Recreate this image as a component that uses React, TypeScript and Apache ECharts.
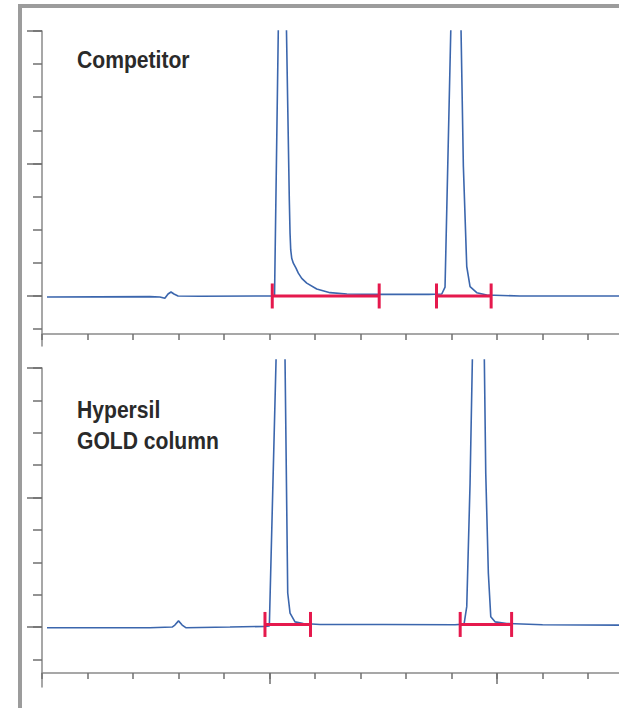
import React, { useEffect, useRef } from "react";
import * as echarts from "echarts";

// ---- data (x in tick units of the time axis, y in tick units of the signal axis) ----
const X_MAX = 12.68;
const X_TICKS = [0, 1, 2, 3, 4, 5, 6, 7, 8, 9, 10, 11, 12];
const X_LONG_TICKS = [5, 10];
const Y_TICKS = [-1, 0, 1, 2, 3, 4, 5, 6, 7, 8];
const Y_LONG_TICKS = [0, 4, 8];

const topTimes = [0.11, 2.37, 2.59, 2.7, 2.77, 2.835, 2.9, 2.99, 3.47, 4.79, 5.08, 5.11, 5.275, 5.435, 5.451, 5.466, 5.488, 5.523, 5.582, 5.633, 5.708, 5.818, 6.037, 6.33, 6.7, 7.43, 8.5, 8.785, 8.857, 9.111, 9.26, 9.334, 9.407, 9.554, 9.774, 10.5, 12.68];
const topSignal = [-0.03, -0.02, -0.03, -0.07, 0.06, 0.12, 0.06, 0, -0.01, 0, 0, 0, 16, 2.9, 1.89, 1.39, 1.14, 0.99, 0.84, 0.69, 0.53, 0.39, 0.21, 0.1, 0.06, 0.05, 0.05, 0.06, 0.27, 15.85, 3.91, 0.89, 0.28, 0.1, 0.03, 0.0, 0.0];

const bottomTimes = [0.11, 2.37, 2.86, 2.92, 3.0, 3.08, 3.16, 4.13, 4.9, 4.996, 5.279, 5.378, 5.4, 5.451, 5.56, 5.743, 6.11, 7.5, 9.077, 9.275, 9.334, 9.407, 9.615, 9.752, 9.809, 9.862, 9.956, 10.213, 11, 12.68];
const bottomSignal = [-0.02, -0.02, 0, 0.06, 0.19, 0.06, -0.02, 0, 0.02, 0.03, 15.8, 3.7, 1.05, 0.43, 0.16, 0.11, 0.08, 0.08, 0.07, 0.09, 0.63, 4.44, 20.1, 4.74, 1.66, 0.32, 0.16, 0.11, 0.07, 0.06];

const topBarStarts = [5.06, 8.67];
const topBarEnds = [7.41, 9.87];
const topBarLevel = 0;
const bottomBarStarts = [4.9, 9.19];
const bottomBarEnds = [5.9, 10.32];
const bottomBarLevel = 0.08;

const topLabel = "Competitor";
const bottomLabel1 = "Hypersil";
const bottomLabel2 = "GOLD column";

const BLUE = "#3b66ad";
const RED = "#e5194d";
const AXIS = "#8a8a8a";
const TICK = "#6f6f6f";

function zip(xs: number[], ys: number[]) {
  return xs.map((x, i) => [x, ys[i]]);
}

function barSeries(starts: number[], ends: number[], level: number, xi: number, yi: number) {
  return starts.map((s, i) => ({
    type: "line",
    xAxisIndex: xi,
    yAxisIndex: yi,
    data: [
      [s, level],
      [ends[i], level],
    ],
    showSymbol: true,
    symbol: "rect",
    symbolSize: [3, 25],
    itemStyle: { color: RED },
    lineStyle: { color: RED, width: 3 },
    clip: false,
    z: 5,
    silent: true,
  }));
}

function xAxisVisible(grid: number, offset: number, ticks: number[], len: number, showLine: boolean) {
  return {
    type: "value",
    gridIndex: grid,
    min: 0,
    max: X_MAX,
    position: "bottom",
    offset,
    axisLine: { show: showLine, onZero: false, lineStyle: { color: AXIS, width: 1.5 } },
    axisTick: { show: true, customValues: ticks, length: len, lineStyle: { color: TICK, width: 1.5 } },
    axisLabel: { show: false },
    splitLine: { show: false },
  };
}

function yAxisVisible(grid: number, min: number, max: number, ticks: number[], len: number, showLine: boolean) {
  return {
    type: "value",
    gridIndex: grid,
    min,
    max,
    position: "left",
    axisLine: { show: showLine, onZero: false, lineStyle: { color: AXIS, width: 1.5 } },
    axisTick: { show: true, customValues: ticks, length: len, lineStyle: { color: TICK, width: 1.5 } },
    axisLabel: { show: false },
    splitLine: { show: false },
  };
}

export default function App() {
  const ref = useRef<HTMLDivElement>(null);
  useEffect(() => {
    if (!ref.current) return;
    const chart = echarts.init(ref.current, undefined, { renderer: "svg" });
    const labelFont = {
      fill: "#2a2a2a",
      fontSize: 24,
      fontWeight: "bold",
      fontFamily: "Liberation Sans",
      align: "left",
      verticalAlign: "middle",
    };
    chart.setOption({
      animation: false,
      backgroundColor: "#ffffff",
      grid: [
        { left: 42, right: 0, top: 31, bottom: 362 },
        { left: 42, right: 0, top: 368, bottom: 21 },
        { left: 42, right: 0, top: 360, bottom: 21 },
      ],
      xAxis: [
        xAxisVisible(0, -12, X_TICKS, 6, true),
        xAxisVisible(1, -14, X_TICKS, 6, true),
        xAxisVisible(1, -14, X_LONG_TICKS, 11, false),
        { type: "value", gridIndex: 2, min: 0, max: X_MAX, show: false },
      ],
      yAxis: [
        yAxisVisible(0, -1.51, 8, Y_TICKS, 9, true),
        yAxisVisible(0, -1.51, 8, Y_LONG_TICKS, 15, false),
        yAxisVisible(1, -1.85, 8, Y_TICKS, 9, true),
        yAxisVisible(1, -1.85, 8, Y_LONG_TICKS, 15, false),
        { type: "value", gridIndex: 2, min: -1.85, max: 8.24, show: false },
      ],
      series: [
        {
          type: "line",
          xAxisIndex: 0,
          yAxisIndex: 0,
          data: zip(topTimes, topSignal),
          showSymbol: false,
          lineStyle: { color: BLUE, width: 1.6 },
          clip: true,
          silent: true,
        },
        ...barSeries(topBarStarts, topBarEnds, topBarLevel, 0, 0),
        {
          type: "line",
          xAxisIndex: 3,
          yAxisIndex: 4,
          data: zip(bottomTimes, bottomSignal),
          showSymbol: false,
          lineStyle: { color: BLUE, width: 1.6 },
          clip: true,
          silent: true,
        },
        ...barSeries(bottomBarStarts, bottomBarEnds, bottomBarLevel, 3, 4),
      ],
      graphic: [
        { type: "rect", shape: { x: 18, y: 4, width: 4, height: 704 }, style: { fill: "#9c9c9c" }, silent: true },
        { type: "rect", shape: { x: 18, y: 4, width: 601, height: 4 }, style: { fill: "#9c9c9c" }, silent: true },
        { type: "text", x: 77, y: 60, scaleX: 0.88, style: { ...labelFont, text: topLabel } },
        { type: "text", x: 77, y: 410, scaleX: 0.88, style: { ...labelFont, text: bottomLabel1 } },
        { type: "text", x: 77, y: 441, scaleX: 0.88, style: { ...labelFont, text: bottomLabel2 } },
      ],
    });
    return () => chart.dispose();
  }, []);
  return (
    <div
      ref={ref}
      style={{ position: "fixed", left: 0, top: 0, width: 619, height: 708, background: "#fff" }}
    />
  );
}
